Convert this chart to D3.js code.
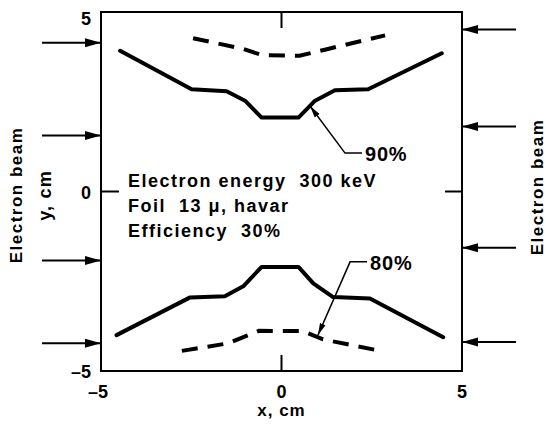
<!DOCTYPE html>
<html>
<head>
<meta charset="utf-8">
<script src="https://cdn.jsdelivr.net/npm/d3@7"></script>
<style>
  body { margin: 0; background: #fff; }
  text { font-family: "Liberation Sans", Arial, sans-serif; font-weight: bold; fill: #000; white-space: pre; }
</style>
</head>
<body>
<div id="chart"></div>
<script>
// curve data (x, y in cm)
const solid90 = [[-4.47, 3.92], [-2.49, 2.85], [-1.52, 2.79], [-1.01, 2.53], [-0.55, 2.06],
  [0.47, 2.06], [0.93, 2.53], [1.48, 2.82], [2.40, 2.85], [4.44, 3.85]];
const dashed90 = [[-2.45, 4.27], [-1.05, 3.97], [-0.55, 3.80], [0.50, 3.78], [1.20, 3.95], [2.87, 4.35]];
const solid80 = [[-4.57, -4.00], [-2.53, -2.95], [-1.57, -2.92], [-1.06, -2.64], [-0.55, -2.10],
  [0.47, -2.10], [0.88, -2.56], [1.43, -2.94], [2.45, -2.98], [4.48, -4.06]];
const dashed80 = [[-2.76, -4.44], [-1.48, -4.23], [-0.62, -3.88], [0.60, -3.89], [1.15, -4.12], [2.64, -4.42]];

// beam arrow heights (cm)
const leftArrows = [4.14, 1.56, -1.92, -4.23];
const rightArrows = [4.51, 1.81, -1.57, -4.19];

const xTicks = [-5, 0, 5];
const yTicks = [-5, 0, 5];
const infoLines = ["Electron energy  300 keV", "Foil  13 \u03bc, havar", "Efficiency  30%"];

// annotation leaders: [tip, corner, end] in cm
const label90 = {text: "90%", pts: [[0.79, 2.38], [1.76, 1.07], [2.23, 1.07]]};
const label80 = {text: "80%", pts: [[1.01, -4.0], [1.90, -1.96], [2.37, -1.96]]};

const width = 546, height = 424;
const svg = d3.select("#chart").append("svg")
  .attr("width", width).attr("height", height);

const x = d3.scaleLinear().domain([-5, 5]).range([101, 462]);
const y = d3.scaleLinear().domain([-5, 5]).range([371, 12]);

const defs = svg.append("defs");
defs.append("marker")
  .attr("id", "head")
  .attr("viewBox", "0 0 16 10")
  .attr("refX", 16).attr("refY", 5)
  .attr("markerWidth", 16).attr("markerHeight", 10)
  .attr("markerUnits", "userSpaceOnUse")
  .attr("orient", "auto")
  .append("path").attr("d", "M0,0.5 L16,5 L0,9.5 Z").attr("fill", "#000");
defs.append("marker")
  .attr("id", "small")
  .attr("viewBox", "0 0 12 8")
  .attr("refX", 12).attr("refY", 4)
  .attr("markerWidth", 12).attr("markerHeight", 8)
  .attr("markerUnits", "userSpaceOnUse")
  .attr("orient", "auto")
  .append("path").attr("d", "M0,1 L12,4 L0,7 Z").attr("fill", "#000");

// frame
svg.append("rect")
  .attr("x", x(-5)).attr("y", y(5))
  .attr("width", x(5) - x(-5)).attr("height", y(-5) - y(5))
  .attr("fill", "none").attr("stroke", "#000").attr("stroke-width", 2);

// inner ticks at 0
svg.append("line").attr("x1", x(-5)).attr("x2", x(-5) + 18).attr("y1", y(0)).attr("y2", y(0)).attr("stroke", "#000").attr("stroke-width", 2);
svg.append("line").attr("x1", x(5)).attr("x2", x(5) - 17).attr("y1", y(0)).attr("y2", y(0)).attr("stroke", "#000").attr("stroke-width", 2);
svg.append("line").attr("x1", x(0)).attr("x2", x(0)).attr("y1", y(-5)).attr("y2", y(-5) - 16).attr("stroke", "#000").attr("stroke-width", 2);
svg.append("line").attr("x1", x(0)).attr("x2", x(0)).attr("y1", y(5)).attr("y2", y(5) + 16).attr("stroke", "#000").attr("stroke-width", 2);

// tick labels
svg.selectAll(".ylab").data(yTicks).enter().append("text")
  .attr("x", 91)
  .attr("y", d => y(d) + (d === 5 ? 13 : 7))
  .attr("text-anchor", "end")
  .attr("font-size", 18)
  .text(d => d < 0 ? "\u2013" + Math.abs(d) : d);

svg.selectAll(".xlab").data(xTicks).enter().append("text")
  .attr("x", d => d < 0 ? x(d) + 7 : x(d))
  .attr("y", 398)
  .attr("text-anchor", d => d < 0 ? "end" : "middle")
  .attr("font-size", 18)
  .text(d => d < 0 ? "\u2013" + Math.abs(d) : d);

svg.append("text").attr("x", x(0)).attr("y", 416)
  .attr("text-anchor", "middle").attr("font-size", 17)
  .attr("letter-spacing", 1).text("x, cm");

svg.append("text")
  .attr("transform", `translate(51,${y(0) + 4}) rotate(-90)`)
  .attr("text-anchor", "middle").attr("font-size", 18)
  .attr("letter-spacing", 1.2).text("y, cm");

svg.append("text")
  .attr("transform", `translate(22,195) rotate(-90)`)
  .attr("text-anchor", "middle").attr("font-size", 17)
  .attr("letter-spacing", 1.5).text("Electron beam");

svg.append("text")
  .attr("transform", `translate(543,187) rotate(-90)`)
  .attr("text-anchor", "middle").attr("font-size", 17)
  .attr("letter-spacing", 1.5).text("Electron beam");

// beam arrows
svg.selectAll(".la").data(leftArrows).enter().append("line")
  .attr("x1", x(-5) - 59).attr("x2", x(-5))
  .attr("y1", d => y(d)).attr("y2", d => y(d))
  .attr("stroke", "#000").attr("stroke-width", 2)
  .attr("marker-end", "url(#head)");

svg.selectAll(".ra").data(rightArrows).enter().append("line")
  .attr("x1", x(5) + 54).attr("x2", x(5))
  .attr("y1", d => y(d)).attr("y2", d => y(d))
  .attr("stroke", "#000").attr("stroke-width", 2)
  .attr("marker-end", "url(#head)");

// curves
const line = d3.line().x(d => x(d[0])).y(d => y(d[1]));
[solid90, solid80].forEach(d => {
  svg.append("path").attr("d", line(d))
    .attr("fill", "none").attr("stroke", "#000").attr("stroke-width", 4)
    .attr("stroke-linejoin", "round").attr("stroke-linecap", "round");
});
[dashed90, dashed80].forEach(d => {
  svg.append("path").attr("d", line(d))
    .attr("fill", "none").attr("stroke", "#000").attr("stroke-width", 4)
    .attr("stroke-dasharray", "16,10");
});

// info text
svg.selectAll(".info").data(infoLines).enter().append("text")
  .attr("x", 128)
  .attr("y", (d, i) => 187 + i * 25)
  .attr("font-size", 18)
  .attr("letter-spacing", 1.5)
  .text(d => d);

// percent labels with leaders
[label90, label80].forEach(l => {
  const pts = l.pts.slice().reverse();
  svg.append("path").attr("d", line(pts))
    .attr("fill", "none").attr("stroke", "#000").attr("stroke-width", 1.5)
    .attr("marker-end", "url(#small)");
  svg.append("text")
    .attr("x", x(l.pts[2][0]) + 3)
    .attr("y", y(l.pts[2][1]) + 8)
    .attr("font-size", 20)
    .attr("letter-spacing", 0.8)
    .text(l.text);
});
</script>
</body>
</html>
